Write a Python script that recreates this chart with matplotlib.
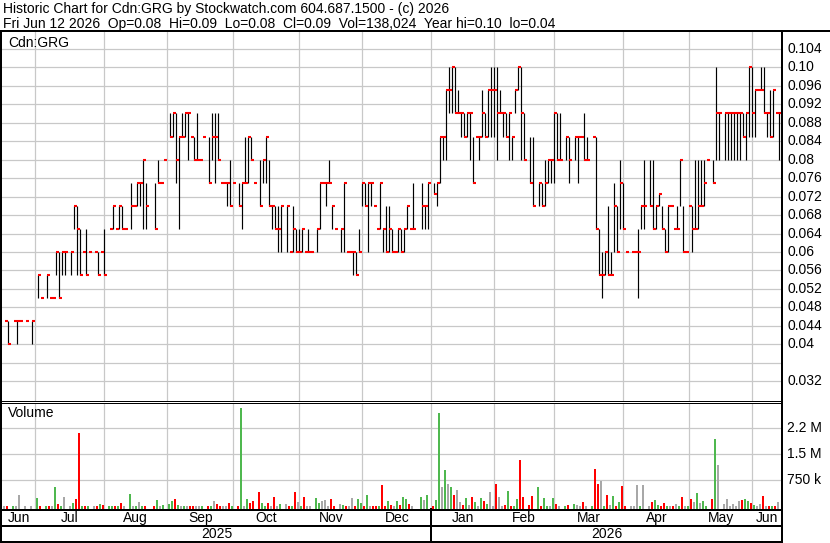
import numpy as np
import pandas as pd
import matplotlib
matplotlib.use("Agg")
import matplotlib.pyplot as plt
from matplotlib.lines import Line2D
from matplotlib import transforms

N = None

# one slot per weekday, Jun 17 2025 .. Jun 12 2026 (holidays stay empty)
dates = pd.bdate_range("2025-06-17", "2026-06-12")

# prices in cents
highs = [
    4.5, 4.5, N, 4.5, 4.5, 4.5, N, 4.5, N, 4.5,
    N, 5.5, 5, N, 5.5, 5, 5, 6, 6, 6,
    6, N, 6, 7, 7, 6.5, 6, 6.5, 6, N,
    6, 6, 6, 6.5, N, 6.5, 7, 6.5, 7, 7,
    6.5, N, 7.5, 7, 7.5, 7.5, 8, 7.5, N, N,
    7.5, 8, 7.5, 8, N, 9, 9, 9, 8.5, 9,
    9, 9, 8.5, 8.5, 9, 8, 8.5, N, 8.5, 9,
    9, 9, 7.5, 7.5, 7.5, 8, 7.5, N, 7.5, 7.5,
    8.5, 8.5, 8.5, 7.5, N, 8, 8, 8.5, 8, 7,
    7, 7, 7, N, 7, 6, 7, 6.5, 6.5, 6.5,
    6, 6.5, 6, N, 6.5, 7.5, 7.5, 7.5, 8, 7,
    6.5, N, 6.5, 7.5, 6, 6, 6, 6, 6.5, 7.5,
    7.5, 7.5, 7.5, 7, 6.5, 7.5, 6.5, 7, 7, 6.5,
    6, 6.5, 6.5, 6.5, 7, 6.5, 7.5, N, N, 7.5,
    7, 7.5, N, 7.5, 7.5, 8.5, 8.5, 9.5, 10, 10,
    10, 9.5, 9, 9, 9, 9, 8.5, 8.5, 8.5, 9.5,
    9, 9.5, 10, 10, 10, 9.5, 9, 9, 9, 8.5,
    9.5, 10, 10, 9, N, 8.5, 8.5, N, 7.5, 7.5,
    8, 8, 8, 9, 9, 9, N, 8.5, 8.5, N,
    8.5, 8.5, 8.5, 9, 8.5, N, 8.5, 8.5, 6.5, 6,
    6, 7, 6, 7.5, 7, 8, 7.5, 6, N, 6,
    6, 6.5, 7, 8, N, 8, 8, 7, 7.25, 7,
    6.5, 7, 7, 6.5, 7, 8, 7, 6, 7, 7,
    8, 8, 8, 8, 8, N, 8, 10, 9, N,
    9, 9, 9, 9, 9, 9, 9, 9, 10, 10,
    9.5, 9.5, 10, 10, 9, 9.5, 9.5, 9, 9,
]
lows = [
    4.5, 4, N, 4.5, 4, 4.5, N, 4.5, N, 4,
    N, 5, 5, N, 5, 5, 5, 5.5, 5, 5.5,
    5.5, N, 5.5, 6.5, 5.5, 5.5, 6, 5.5, 6, N,
    6, 5.5, 6, 5.5, N, 6.5, 6.5, 6.5, 6.5, 6.5,
    6.5, N, 6.5, 7, 7, 7, 6.5, 6.5, N, N,
    6.5, 7.5, 7.5, 8, N, 8.5, 8.5, 7.5, 6.5, 8.5,
    8.5, 8, 8.5, 8, 8, 8, 8.5, N, 7.5, 8,
    7.5, 8, 7.5, 7.5, 7, 7, 7.5, N, 7, 6.5,
    7.5, 7.5, 8, 7.5, N, 7, 7.5, 7.5, 7, 6.5,
    6.5, 6, 6, N, 6, 6, 6, 6, 6, 6,
    6, 6, 6, N, 6, 6.5, 7.5, 7, 7.5, 6.5,
    6.5, N, 6, 6, 6, 6, 5.5, 5.5, 6, 7,
    7, 6, 7, 7, 6.5, 6.5, 6, 6, 6, 6,
    6, 6, 6, 6, 6.5, 6.5, 6.5, N, N, 6.5,
    6.5, 6.5, N, 7.25, 7, 7.5, 8, 8, 9, 9,
    9, 9, 8.5, 8.5, 8.5, 8, 7.5, 8.5, 8, 8.5,
    8.5, 8.5, 8.5, 8.5, 8, 9, 8.5, 8.5, 8, 8,
    9, 9.5, 8, 8, N, 7.5, 7, N, 7, 7,
    7, 7.5, 7.5, 7.5, 8, 8, N, 8, 7.5, N,
    8, 7.5, 8.5, 8, 8, N, 8.5, 6.5, 5.5, 5,
    5.5, 5.5, 5.5, 6, 6, 6.5, 6.5, 6, N, 6,
    6, 5, 6.5, 6.5, N, 7, 6.5, 6.5, 7, 6.5,
    6, 6, 7, 6.5, 6.5, 7, 6, 6, 7, 6,
    6.5, 6.5, 7, 7, 8, N, 7.5, 8, 8, N,
    8, 8, 8, 8, 8, 8, 8.5, 8, 8.5, 8.5,
    8.5, 9.5, 9.5, 9, 8.5, 8.5, 8.5, 9, 8,
]
closes = [
    4.5, 4, N, 4.5, 4.5, 4.5, N, 4.5, N, 4.5,
    N, 5.5, 5, N, 5.5, 5, 5, 6, 5, 6,
    6, N, 6, 7, 6.5, 5.5, 6, 5.5, 6, N,
    6, 5.5, 6, 5.5, N, 6.5, 7, 6.5, 7, 6.5,
    6.5, N, 7, 7, 7.5, 7.5, 8, 7, N, N,
    6.5, 7.5, 7.5, 8, N, 8.5, 9, 8, 8.5, 8.5,
    9, 9, 8.5, 8, 8, 8, 8.5, N, 7.5, 8.5,
    8.5, 8, 7.5, 7.5, 7.5, 7, 7.5, N, 7, 7.5,
    7.5, 8.5, 8, 7.5, N, 7, 8, 8.5, 7, 7,
    6.5, 6.5, 7, N, 7, 6, 6.5, 6, 6, 6.5,
    6, 6, 6, N, 6.5, 7.5, 7.5, 7.5, 7.5, 7,
    6.5, N, 6.5, 7.5, 6, 6, 6, 5.5, 6, 7.5,
    7, 7.5, 7.5, 7, 6.5, 7.5, 6.5, 6, 6.5, 6,
    6, 6.5, 6, 6.5, 7, 6.5, 6.5, N, N, 7,
    7, 7.5, N, 7.25, 7.5, 8.5, 8.5, 9.5, 9.5, 10,
    9, 9, 9, 8.5, 9, 9, 7.5, 8.5, 8.5, 9,
    8.5, 9.5, 9.5, 9.5, 9, 9, 9, 8.5, 9, 8.5,
    9.5, 10, 9, 8, N, 7.5, 7, N, 7.5, 7,
    7.5, 8, 8, 9, 8, 8, N, 8.5, 8, N,
    8.5, 8.5, 8.5, 8, 8, N, 8.5, 6.5, 5.5, 5.5,
    6, 5.5, 5.5, 7, 6, 7.5, 6.5, 6, N, 6,
    6, 6, 7, 7, N, 7, 6.5, 7, 7.25, 6.5,
    6, 7, 7, 6.5, 6.5, 8, 6, 6, 7, 6.5,
    6.5, 7, 7, 7.5, 8, N, 7.5, 9, 9, N,
    9, 9, 9, 9, 9, 9, 8.5, 9, 10, 9,
    9.5, 9.5, 9.5, 9, 9, 8.5, 9.5, 9, 9,
]
# volume in thousands of shares
volumes = [
    15, 15, N, 15, 15, 326, N, 20, N, 15,
    N, 240, 15, N, 20, 15, 15, 557, 77, 15,
    270, N, 15, 96, 211, 2120, 15, 20, 15, N,
    15, 15, 67, 38, N, 15, 20, 15, 15, 96,
    15, N, 355, 15, 15, 125, 15, 15, N, N,
    15, 182, 15, 48, N, 77, 154, 211, 38, 15,
    15, 15, 15, 20, 15, 15, 15, N, 15, 20,
    154, 77, 15, 15, 15, 96, 15, N, 20, 2830,
    15, 211, 96, 154, N, 413, 96, 20, 96, 15,
    270, 15, 67, N, 58, 15, 15, 413, 125, 20,
    270, 15, 10, N, 240, 96, 154, 182, 10, 211,
    15, N, 67, 38, 15, 20, 240, 15, 211, 96,
    10, 326, 15, 10, 10, 15, 614, 15, 154, 38,
    15, 154, 38, 270, 211, 77, 20, N, N, 270,
    182, 326, N, 15, 182, 2690, 557, 1050, 643, 557,
    326, 470, 125, 38, 240, 38, 270, 125, 15, 240,
    154, 77, 413, 15, 643, 270, 15, 38, 442, 15,
    15, 211, 1350, 270, N, 38, 298, N, 547, 20,
    230, 20, 15, 240, 67, 10, N, 10, 38, N,
    67, 38, 10, 125, 15, N, 10, 1075, 643, 730,
    15, 326, 38, 298, 10, 125, 586, 10, N, 10,
    10, 614, 10, 614, N, 15, 125, 182, 38, 15,
    106, 15, 10, 15, 67, 10, 270, 10, 10, 211,
    125, 384, 96, 154, 10, N, 211, 1940, 1190, N,
    67, 211, 10, 67, 15, 154, 182, 211, 154, 96,
    38, 10, 67, 298, 10, 10, 10, 15, 138,
]

month_labels = ["Jun", "Jul", "Aug", "Sep", "Oct", "Nov", "Dec",
                "Jan", "Feb", "Mar", "Apr", "May", "Jun"]
year_labels = ["2025", "2026"]
price_ticks = [0.104, 0.10, 0.096, 0.092, 0.088, 0.084, 0.08, 0.076, 0.072,
               0.068, 0.064, 0.06, 0.056, 0.052, 0.048, 0.044, 0.04, 0.036, 0.032]
price_labels = ["0.104", "0.10", "0.096", "0.092", "0.088", "0.084", "0.08",
                "0.076", "0.072", "0.068", "0.064", "0.06", "0.056", "0.052",
                "0.048", "0.044", "0.04", "", "0.032"]
vol_ticks = [750, 1500, 2250]
vol_labels = ["750 k", "1.5 M", "2.2 M"]

title1 = "Historic Chart for Cdn:GRG by Stockwatch.com 604.687.1500 - (c) 2026"
title2 = ("Fri Jun 12 2026  Op=0.08  Hi=0.09  Lo=0.08  Cl=0.09  "
          "Vol=138,024  Year hi=0.10  lo=0.04")

plt.rcParams['font.family'] = ['Liberation Sans', 'DejaVu Sans']
FS = 10

W, H = 830, 543
def fx(px):
    return px / W
def fy(py):
    return 1 - py / H

hi = np.array([np.nan if v is None else v for v in highs]) / 100
lo = np.array([np.nan if v is None else v for v in lows]) / 100
cl = np.array([np.nan if v is None else v for v in closes]) / 100
vol = np.array([np.nan if v is None else v for v in volumes])
k = np.arange(len(dates))

# colour of each volume bar from the change in close
vcol = []
prev = np.nan
for c in cl:
    if np.isnan(c):
        vcol.append('none')
        continue
    if np.isnan(prev) or c == prev:
        vcol.append('#a8a8a8')
    elif c > prev:
        vcol.append('#4fb84f')
    else:
        vcol.append('#ff0000')
    prev = c

# month grid positions (1st of month, weekend -> previous weekday)
month_starts = pd.date_range("2025-07-01", "2026-06-01", freq="MS")
grid_k = dates.searchsorted(month_starts, side="right") - 1

x0px, x1px = 2.0, 781.7
xmin = (x0px - 5.3) / 3
xmax = (x1px - 5.3) / 3

fig = plt.figure(figsize=(8.3, 5.43), dpi=100)
fig.patch.set_facecolor('white')

grid_c = '#c8c8c8'

ax = fig.add_axes([fx(x0px), fy(401), fx(x1px) - fx(x0px), fy(32) - fy(401)])
ax.set_xlim(xmin, xmax)
ax.set_ylim(0.02772, 0.10765)
for t in price_ticks:
    ax.axhline(t, color=grid_c, lw=0.9, zorder=0)
for g in grid_k:
    ax.axvline(g, color=grid_c, lw=0.9, zorder=0)
ok = ~np.isnan(cl)
ax.vlines(k[ok], lo[ok], hi[ok], color='black', lw=0.85, zorder=2)
ax.hlines(cl[ok], k[ok], k[ok] + 0.8, color='red', lw=1.5, zorder=3)
ax.axis('off')

ptrans = transforms.blended_transform_factory(fig.transFigure, ax.transData)
for t, s in zip(price_ticks, price_labels):
    ax.text(fx(787), t, s, transform=ptrans, fontsize=FS, va='center', ha='left',
            clip_on=False)
fig.text(fx(8), fy(43), "Cdn:GRG", fontsize=FS, va='center', ha='left')

axv = fig.add_axes([fx(x0px), fy(509), fx(x1px) - fx(x0px), fy(403) - fy(509)])
axv.set_xlim(xmin, xmax)
vbot = -78
axv.set_ylim(vbot, 2980)
for t in vol_ticks:
    axv.axhline(t, color=grid_c, lw=0.9, zorder=0)
for g in grid_k:
    axv.axvline(g, color=grid_c, lw=0.9, zorder=0)
okv = ~np.isnan(vol)
axv.bar(k[okv] - 0.33, vol[okv] - vbot, bottom=vbot, width=0.67,
        color=[vcol[i] for i in k[okv]], zorder=2)
axv.axis('off')
vtrans = transforms.blended_transform_factory(fig.transFigure, axv.transData)
for t, s in zip(vol_ticks, vol_labels):
    axv.text(fx(787), t, s, transform=vtrans, fontsize=FS, va='center', ha='left',
             clip_on=False)
fig.text(fx(8), fy(413), "Volume", fontsize=FS, va='center', ha='left')

# month and year rows
btrans = transforms.blended_transform_factory(axv.transData, fig.transFigure)
bounds = [xmin] + list(grid_k) + [xmax]
for i, lab in enumerate(month_labels):
    axv.text((bounds[i] + bounds[i + 1]) / 2, fy(518), lab, transform=btrans,
             fontsize=FS, ha='center', va='center', clip_on=False)
jan_k = grid_k[6]
axv.text((xmin + jan_k) / 2, fy(534.5), year_labels[0], transform=btrans,
         fontsize=FS, ha='center', va='center', clip_on=False)
axv.text((jan_k + xmax) / 2, fy(534.5), year_labels[1], transform=btrans,
         fontsize=FS, ha='center', va='center', clip_on=False)

fig.text(fx(3), fy(9.5), title1, fontsize=FS, va='center', ha='left')
fig.text(fx(3), fy(24), title2, fontsize=FS, va='center', ha='left')

# frame lines, pixel coordinates
jan_px = 5.3 + 3 * jan_k
frame = [
    ((0, 830), (31.3, 31.3), 2.0),
    ((1, 1), (31, 543), 2.0),
    ((x1px, x1px), (31, 543), 2.0),
    ((0, x1px), (401, 401), 1.0),
    ((0, x1px), (403, 403), 1.0),
    ((0, x1px), (509.8, 509.8), 2.0),
    ((0, x1px), (526.3, 526.3), 2.0),
    ((0, x1px), (542, 542), 2.0),
    ((jan_px, jan_px), (509, 542), 2.0),
]
for xs, ys, w in frame:
    fig.add_artist(Line2D([fx(xs[0]), fx(xs[1])], [fy(ys[0]), fy(ys[1])],
                          color='black', lw=w * 0.72, transform=fig.transFigure))

fig.savefig("out.png", dpi=100)
